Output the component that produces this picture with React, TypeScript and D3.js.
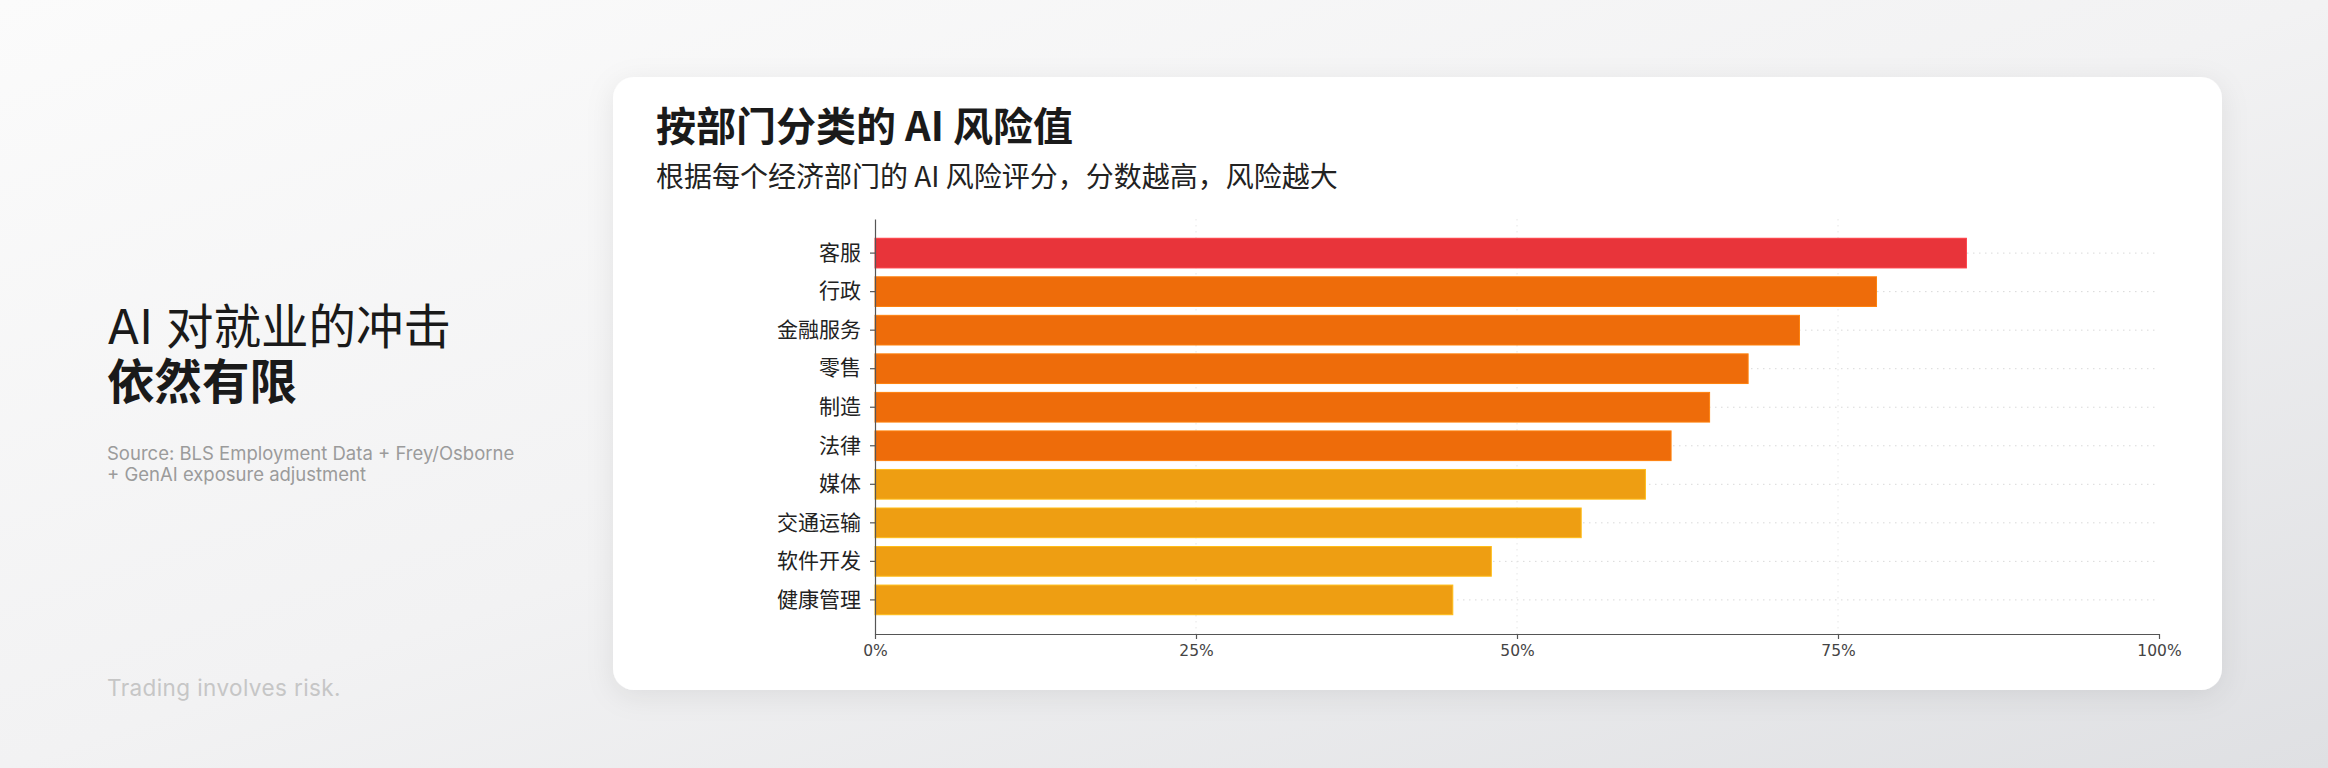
import * as d3 from "d3";
import { useEffect, useRef } from "react";

const W = 2328;
const H = 768;

// sectors, top to bottom
const SECTORS = [
  "客服",
  "行政",
  "金融服务",
  "零售",
  "制造",
  "法律",
  "媒体",
  "交通运输",
  "软件开发",
  "健康管理",
];
// AI risk score (share, 0..1)
const RISK = [0.85, 0.78, 0.72, 0.68, 0.65, 0.62, 0.6, 0.55, 0.48, 0.45];
const X_TICKS = [0, 0.25, 0.5, 0.75, 1];

const TITLE = "按部门分类的 AI 风险值";
const SUBTITLE = "根据每个经济部门的 AI 风险评分，分数越高，风险越大";
const HEAD_1 = "AI 对就业的冲击";
const HEAD_2 = "依然有限";
const SOURCE_LINES = ["Source: BLS Employment Data + Frey/Osborne", "+ GenAI exposure adjustment"];
const DISCLAIMER = "Trading involves risk.";

const CJK = "'Noto Sans CJK SC', 'Noto Sans', sans-serif";
const LATIN = "Inter, 'Noto Sans CJK SC', sans-serif";

export default function App() {
  const svgRef = useRef<SVGSVGElement>(null);

  useEffect(() => {
    const svg = d3.select(svgRef.current);
    svg.selectAll("*").remove();
    svg.attr("width", W).attr("height", H);

    const defs = svg.append("defs");
    const bg = defs
      .append("linearGradient")
      .attr("id", "bg")
      .attr("x1", 0)
      .attr("y1", 0)
      .attr("x2", 1)
      .attr("y2", 1);
    bg.append("stop").attr("offset", "0%").attr("stop-color", "#fbfbfb");
    bg.append("stop").attr("offset", "50%").attr("stop-color", "#f2f2f3");
    bg.append("stop").attr("offset", "100%").attr("stop-color", "#dfe0e3");

    const shadow = defs
      .append("filter")
      .attr("id", "card-shadow")
      .attr("x", "-10%")
      .attr("y", "-20%")
      .attr("width", "120%")
      .attr("height", "140%");
    shadow
      .append("feDropShadow")
      .attr("dx", 0)
      .attr("dy", 6)
      .attr("stdDeviation", 14)
      .attr("flood-color", "#000")
      .attr("flood-opacity", 0.08);

    svg.append("rect").attr("width", W).attr("height", H).attr("fill", "url(#bg)");

    // left column text
    const left = svg.append("g").attr("transform", "translate(107,0)");
    left
      .append("text")
      .attr("y", 344)
      .attr("font-family", LATIN)
      .attr("font-size", 47.5)
      .attr("font-weight", 400)
      .attr("fill", "#1a1a1a")
      .text(HEAD_1);
    left
      .append("text")
      .attr("y", 399)
      .attr("font-family", LATIN)
      .attr("font-size", 47.5)
      .attr("font-weight", 700)
      .attr("fill", "#1a1a1a")
      .text(HEAD_2);
    SOURCE_LINES.forEach((line, i) => {
      left
        .append("text")
        .attr("y", 460 + i * 20.5)
        .attr("font-family", LATIN)
        .attr("font-size", 18.5)
        .attr("fill", "#9b9b9b")
        .text(line);
    });
    left
      .append("text")
      .attr("y", 696)
      .attr("font-family", LATIN)
      .attr("font-size", 22.5)
      .attr("letter-spacing", 0.4)
      .attr("fill", "#c6c6c6")
      .text(DISCLAIMER);

    // card
    svg
      .append("rect")
      .attr("x", 613)
      .attr("y", 77)
      .attr("width", 1609)
      .attr("height", 613)
      .attr("rx", 21)
      .attr("fill", "#fff")
      .attr("filter", "url(#card-shadow)");

    svg
      .append("text")
      .attr("x", 656)
      .attr("y", 141)
      .attr("font-family", CJK)
      .attr("font-size", 40)
      .attr("font-weight", 700)
      .attr("fill", "#1a1a1a")
      .text(TITLE);
    svg
      .append("text")
      .attr("x", 656)
      .attr("y", 187)
      .attr("font-family", CJK)
      .attr("font-size", 28)
      .attr("fill", "#222")
      .text(SUBTITLE);

    // chart
    const x = d3.scaleLinear().domain([0, 1]).range([875, 2159]);
    const y = d3
      .scaleBand<string>()
      .domain(SECTORS)
      .range([219, 634])
      .paddingInner(0.23)
      .paddingOuter(0.5);
    const color = d3
      .scaleThreshold<number, string>()
      .domain([0.61, 0.8])
      .range(["#ee9e12", "#ee6c0a", "#e8343a"]);

    const grid = svg.append("g");
    grid
      .selectAll("line.h")
      .data(SECTORS)
      .join("line")
      .attr("class", "h")
      .attr("x1", x(0))
      .attr("x2", x(1))
      .attr("y1", (d) => (y(d) ?? 0) + y.bandwidth() / 2)
      .attr("y2", (d) => (y(d) ?? 0) + y.bandwidth() / 2)
      .attr("stroke", "#d9d9d9")
      .attr("stroke-width", 1)
      .attr("stroke-dasharray", "1.5,4.5");
    grid
      .selectAll("line.v")
      .data(X_TICKS.slice(1, -1))
      .join("line")
      .attr("class", "v")
      .attr("x1", (d) => x(d))
      .attr("x2", (d) => x(d))
      .attr("y1", 219)
      .attr("y2", 634)
      .attr("stroke", "#e6e6e6")
      .attr("stroke-width", 1)
      .attr("stroke-dasharray", "1.5,4.5");

    svg
      .append("g")
      .selectAll("rect")
      .data(SECTORS.map((s, i) => ({ s, v: RISK[i] })))
      .join("rect")
      .attr("x", x(0))
      .attr("y", (d) => y(d.s) ?? 0)
      .attr("width", (d) => x(d.v) - x(0))
      .attr("height", y.bandwidth())
      .attr("fill", (d) => color(d.v))
      .attr("stroke", (d) => d3.color(color(d.v))!.brighter(0.5).formatHex())
      .attr("stroke-width", 1);

    const yAxis = d3.axisLeft(y).tickSize(5).tickSizeOuter(0).tickPadding(9);
    svg
      .append("g")
      .attr("transform", `translate(${x(0)},0)`)
      .call(yAxis)
      .call((s) => s.select(".domain").attr("stroke", "#555").attr("stroke-width", 1.2))
      .call((s) => s.selectAll(".tick line").attr("stroke", "#555").attr("stroke-width", 1.2))
      .call((s) =>
        s
          .selectAll("text")
          .attr("fill", "#222")
          .attr("font-size", 21)
          .attr("font-family", CJK),
      );

    const xAxis = d3
      .axisBottom(x)
      .tickValues(X_TICKS)
      .tickFormat(d3.format(".0%"))
      .tickSize(5)
      .tickSizeOuter(0)
      .tickPadding(6);
    svg
      .append("g")
      .attr("transform", "translate(0,634)")
      .call(xAxis)
      .call((s) => s.select(".domain").attr("stroke", "#555").attr("stroke-width", 1.2))
      .call((s) => s.selectAll(".tick line").attr("stroke", "#555").attr("stroke-width", 1.2))
      .call((s) =>
        s
          .selectAll("text")
          .attr("fill", "#444")
          .attr("font-size", 15.5)
          .attr("font-family", "'DejaVu Sans', sans-serif"),
      );
  }, []);

  return (
    <div style={{ position: "fixed", left: 0, top: 0 }}>
      <svg ref={svgRef} style={{ display: "block" }} />
    </div>
  );
}
